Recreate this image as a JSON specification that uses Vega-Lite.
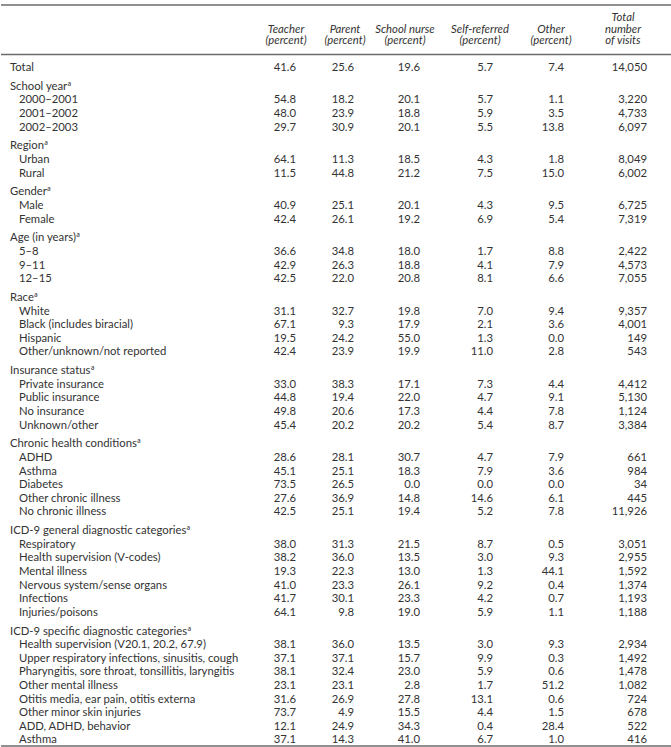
{
  "$schema": "https://vega.github.io/schema/vega-lite/v6.json",
  "padding": 0,
  "background": "white",
  "width": 671,
  "height": 747,
  "config": {
    "view": {"stroke": null},
    "axis": {"disable": true},
    "text": {"font": "Lato", "fontSize": 11.3, "color": "#333333"}
  },
  "datasets": {
    "rows": [
      {"g": 1, "r": 1, "kind": "head", "label": "Total", "teacher": 41.6, "parent": 25.6, "nurse": 19.6, "self": 5.7, "other": 7.4, "total": 14050},
      {"g": 2, "r": 2, "kind": "head", "label": "School yearª"},
      {"g": 2, "r": 3, "kind": "item", "label": "2000–2001", "teacher": 54.8, "parent": 18.2, "nurse": 20.1, "self": 5.7, "other": 1.1, "total": 3220},
      {"g": 2, "r": 4, "kind": "item", "label": "2001–2002", "teacher": 48.0, "parent": 23.9, "nurse": 18.8, "self": 5.9, "other": 3.5, "total": 4733},
      {"g": 2, "r": 5, "kind": "item", "label": "2002–2003", "teacher": 29.7, "parent": 30.9, "nurse": 20.1, "self": 5.5, "other": 13.8, "total": 6097},
      {"g": 3, "r": 6, "kind": "head", "label": "Regionª"},
      {"g": 3, "r": 7, "kind": "item", "label": "Urban", "teacher": 64.1, "parent": 11.3, "nurse": 18.5, "self": 4.3, "other": 1.8, "total": 8049},
      {"g": 3, "r": 8, "kind": "item", "label": "Rural", "teacher": 11.5, "parent": 44.8, "nurse": 21.2, "self": 7.5, "other": 15.0, "total": 6002},
      {"g": 4, "r": 9, "kind": "head", "label": "Genderª"},
      {"g": 4, "r": 10, "kind": "item", "label": "Male", "teacher": 40.9, "parent": 25.1, "nurse": 20.1, "self": 4.3, "other": 9.5, "total": 6725},
      {"g": 4, "r": 11, "kind": "item", "label": "Female", "teacher": 42.4, "parent": 26.1, "nurse": 19.2, "self": 6.9, "other": 5.4, "total": 7319},
      {"g": 5, "r": 12, "kind": "head", "label": "Age (in years)ª"},
      {"g": 5, "r": 13, "kind": "item", "label": "5–8", "teacher": 36.6, "parent": 34.8, "nurse": 18.0, "self": 1.7, "other": 8.8, "total": 2422},
      {"g": 5, "r": 14, "kind": "item", "label": "9–11", "teacher": 42.9, "parent": 26.3, "nurse": 18.8, "self": 4.1, "other": 7.9, "total": 4573},
      {"g": 5, "r": 15, "kind": "item", "label": "12–15", "teacher": 42.5, "parent": 22.0, "nurse": 20.8, "self": 8.1, "other": 6.6, "total": 7055},
      {"g": 6, "r": 16, "kind": "head", "label": "Raceª"},
      {"g": 6, "r": 17, "kind": "item", "label": "White", "teacher": 31.1, "parent": 32.7, "nurse": 19.8, "self": 7.0, "other": 9.4, "total": 9357},
      {"g": 6, "r": 18, "kind": "item", "label": "Black (includes biracial)", "teacher": 67.1, "parent": 9.3, "nurse": 17.9, "self": 2.1, "other": 3.6, "total": 4001},
      {"g": 6, "r": 19, "kind": "item", "label": "Hispanic", "teacher": 19.5, "parent": 24.2, "nurse": 55.0, "self": 1.3, "other": 0.0, "total": 149},
      {"g": 6, "r": 20, "kind": "item", "label": "Other/unknown/not reported", "teacher": 42.4, "parent": 23.9, "nurse": 19.9, "self": 11.0, "other": 2.8, "total": 543},
      {"g": 7, "r": 21, "kind": "head", "label": "Insurance statusª"},
      {"g": 7, "r": 22, "kind": "item", "label": "Private insurance", "teacher": 33.0, "parent": 38.3, "nurse": 17.1, "self": 7.3, "other": 4.4, "total": 4412},
      {"g": 7, "r": 23, "kind": "item", "label": "Public insurance", "teacher": 44.8, "parent": 19.4, "nurse": 22.0, "self": 4.7, "other": 9.1, "total": 5130},
      {"g": 7, "r": 24, "kind": "item", "label": "No insurance", "teacher": 49.8, "parent": 20.6, "nurse": 17.3, "self": 4.4, "other": 7.8, "total": 1124},
      {"g": 7, "r": 25, "kind": "item", "label": "Unknown/other", "teacher": 45.4, "parent": 20.2, "nurse": 20.2, "self": 5.4, "other": 8.7, "total": 3384},
      {"g": 8, "r": 26, "kind": "head", "label": "Chronic health conditionsª"},
      {"g": 8, "r": 27, "kind": "item", "label": "ADHD", "teacher": 28.6, "parent": 28.1, "nurse": 30.7, "self": 4.7, "other": 7.9, "total": 661},
      {"g": 8, "r": 28, "kind": "item", "label": "Asthma", "teacher": 45.1, "parent": 25.1, "nurse": 18.3, "self": 7.9, "other": 3.6, "total": 984},
      {"g": 8, "r": 29, "kind": "item", "label": "Diabetes", "teacher": 73.5, "parent": 26.5, "nurse": 0.0, "self": 0.0, "other": 0.0, "total": 34},
      {"g": 8, "r": 30, "kind": "item", "label": "Other chronic illness", "teacher": 27.6, "parent": 36.9, "nurse": 14.8, "self": 14.6, "other": 6.1, "total": 445},
      {"g": 8, "r": 31, "kind": "item", "label": "No chronic illness", "teacher": 42.5, "parent": 25.1, "nurse": 19.4, "self": 5.2, "other": 7.8, "total": 11926},
      {"g": 9, "r": 32, "kind": "head", "label": "ICD-9 general diagnostic categoriesª"},
      {"g": 9, "r": 33, "kind": "item", "label": "Respiratory", "teacher": 38.0, "parent": 31.3, "nurse": 21.5, "self": 8.7, "other": 0.5, "total": 3051},
      {"g": 9, "r": 34, "kind": "item", "label": "Health supervision (V-codes)", "teacher": 38.2, "parent": 36.0, "nurse": 13.5, "self": 3.0, "other": 9.3, "total": 2955},
      {"g": 9, "r": 35, "kind": "item", "label": "Mental illness", "teacher": 19.3, "parent": 22.3, "nurse": 13.0, "self": 1.3, "other": 44.1, "total": 1592},
      {"g": 9, "r": 36, "kind": "item", "label": "Nervous system/sense organs", "teacher": 41.0, "parent": 23.3, "nurse": 26.1, "self": 9.2, "other": 0.4, "total": 1374},
      {"g": 9, "r": 37, "kind": "item", "label": "Infections", "teacher": 41.7, "parent": 30.1, "nurse": 23.3, "self": 4.2, "other": 0.7, "total": 1193},
      {"g": 9, "r": 38, "kind": "item", "label": "Injuries/poisons", "teacher": 64.1, "parent": 9.8, "nurse": 19.0, "self": 5.9, "other": 1.1, "total": 1188},
      {"g": 10, "r": 39, "kind": "head", "label": "ICD-9 specific diagnostic categoriesª"},
      {"g": 10, "r": 40, "kind": "item", "label": "Health supervision (V20.1, 20.2, 67.9)", "teacher": 38.1, "parent": 36.0, "nurse": 13.5, "self": 3.0, "other": 9.3, "total": 2934},
      {"g": 10, "r": 41, "kind": "item", "label": "Upper respiratory infections, sinusitis, cough", "teacher": 37.1, "parent": 37.1, "nurse": 15.7, "self": 9.9, "other": 0.3, "total": 1492},
      {"g": 10, "r": 42, "kind": "item", "label": "Pharyngitis, sore throat, tonsillitis, laryngitis", "teacher": 38.1, "parent": 32.4, "nurse": 23.0, "self": 5.9, "other": 0.6, "total": 1478},
      {"g": 10, "r": 43, "kind": "item", "label": "Other mental illness", "teacher": 23.1, "parent": 23.1, "nurse": 2.8, "self": 1.7, "other": 51.2, "total": 1082},
      {"g": 10, "r": 44, "kind": "item", "label": "Otitis media, ear pain, otitis externa", "teacher": 31.6, "parent": 26.9, "nurse": 27.8, "self": 13.1, "other": 0.6, "total": 724},
      {"g": 10, "r": 45, "kind": "item", "label": "Other minor skin injuries", "teacher": 73.7, "parent": 4.9, "nurse": 15.5, "self": 4.4, "other": 1.5, "total": 678},
      {"g": 10, "r": 46, "kind": "item", "label": "ADD, ADHD, behavior", "teacher": 12.1, "parent": 24.9, "nurse": 34.3, "self": 0.4, "other": 28.4, "total": 522},
      {"g": 10, "r": 47, "kind": "item", "label": "Asthma", "teacher": 37.1, "parent": 14.3, "nurse": 41.0, "self": 6.7, "other": 1.0, "total": 416}
    ],
    "headers": [
      {"hcol": "teacher", "t": ["Teacher", "(percent)"]},
      {"hcol": "parent", "t": ["Parent", "(percent)"]},
      {"hcol": "nurse", "t": ["School nurse", "(percent)"]},
      {"hcol": "self", "t": ["Self-referred", "(percent)"]},
      {"hcol": "other", "t": ["Other", "(percent)"]},
      {"hcol": "total", "t": ["Total", "number", "of visits"]}
    ],
    "lines": [{"ln": "top"}]
  },
  "data": {"name": "rows"},
  "layer": [
    {"data": {"name": "lines"}, "mark": {"type": "rule", "color": "#6b6b6b", "strokeWidth": 1.3},
     "encoding": {"y": {"datum": -1, "type": "quantitative", "axis": null,
       "scale": {"domain": [-1, -0.6, -0.4, 0, 1, 2, 5, 6, 8, 9, 11, 12, 15, 16, 20, 21, 25, 26, 31, 32, 38, 39, 47, 48],
                 "range": [5, 21, 32.5, 54.5, 68, 86.8, 127.6, 146.4, 173.6, 192.4, 219.6, 238.4, 279.2, 298, 352.4, 371.2, 425.6, 444.4, 512.4, 531.2, 612.8, 631.6, 740.4, 746],
                 "zero": false, "nice": false}}}},
    {"data": {"name": "lines"}, "mark": {"type": "rule", "color": "#6b6b6b", "strokeWidth": 1.3},
     "encoding": {"y": {"datum": 0, "type": "quantitative", "axis": null}}},
    {"data": {"name": "lines"}, "mark": {"type": "rule", "color": "#6b6b6b", "strokeWidth": 1.3},
     "encoding": {"y": {"datum": 48, "type": "quantitative", "axis": null}}},
    {"data": {"name": "headers"}, "transform": [{"filter": "datum.hcol === 'teacher'"}],
     "mark": {"type": "text", "align": "center", "baseline": "alphabetic", "fontStyle": "italic", "lineHeight": 11.5},
     "encoding": {"x": {"datum": 1.8, "type": "quantitative", "axis": null,
       "scale": {"domain": [0, 1, 1.8, 2, 2.8, 3, 3.8, 4, 4.8, 5, 5.8, 6, 6.8, 7],
                 "range": [9, 18, 285, 295, 344, 353, 404, 419, 479, 492, 550, 563, 622, 646],
                 "zero": false, "nice": false}},
       "y": {"datum": -0.4, "type": "quantitative", "axis": null}, "text": {"field": "t"}}},
    {"data": {"name": "headers"}, "transform": [{"filter": "datum.hcol === 'parent'"}],
     "mark": {"type": "text", "align": "center", "baseline": "alphabetic", "fontStyle": "italic", "lineHeight": 11.5},
     "encoding": {"x": {"datum": 2.8, "type": "quantitative", "axis": null}, "y": {"datum": -0.4, "type": "quantitative", "axis": null}, "text": {"field": "t"}}},
    {"data": {"name": "headers"}, "transform": [{"filter": "datum.hcol === 'nurse'"}],
     "mark": {"type": "text", "align": "center", "baseline": "alphabetic", "fontStyle": "italic", "lineHeight": 11.5},
     "encoding": {"x": {"datum": 3.8, "type": "quantitative", "axis": null}, "y": {"datum": -0.4, "type": "quantitative", "axis": null}, "text": {"field": "t"}}},
    {"data": {"name": "headers"}, "transform": [{"filter": "datum.hcol === 'self'"}],
     "mark": {"type": "text", "align": "center", "baseline": "alphabetic", "fontStyle": "italic", "lineHeight": 11.5},
     "encoding": {"x": {"datum": 4.8, "type": "quantitative", "axis": null}, "y": {"datum": -0.4, "type": "quantitative", "axis": null}, "text": {"field": "t"}}},
    {"data": {"name": "headers"}, "transform": [{"filter": "datum.hcol === 'other'"}],
     "mark": {"type": "text", "align": "center", "baseline": "alphabetic", "fontStyle": "italic", "lineHeight": 11.5},
     "encoding": {"x": {"datum": 5.8, "type": "quantitative", "axis": null}, "y": {"datum": -0.4, "type": "quantitative", "axis": null}, "text": {"field": "t"}}},
    {"data": {"name": "headers"}, "transform": [{"filter": "datum.hcol === 'total'"}],
     "mark": {"type": "text", "align": "center", "baseline": "alphabetic", "fontStyle": "italic", "lineHeight": 11.5},
     "encoding": {"x": {"datum": 6.8, "type": "quantitative", "axis": null}, "y": {"datum": -0.6, "type": "quantitative", "axis": null}, "text": {"field": "t"}}},
    {"transform": [{"filter": "datum.kind === 'head'"}], "mark": {"type": "text", "align": "left", "baseline": "middle"},
     "encoding": {"x": {"datum": 0, "type": "quantitative", "axis": null}, "y": {"field": "r", "type": "quantitative", "axis": null}, "text": {"field": "label"}}},
    {"transform": [{"filter": "datum.kind === 'item'"}], "mark": {"type": "text", "align": "left", "baseline": "middle"},
     "encoding": {"x": {"datum": 1, "type": "quantitative", "axis": null}, "y": {"field": "r", "type": "quantitative", "axis": null}, "text": {"field": "label"}}},
    {"transform": [{"filter": {"field": "teacher", "valid": true}}], "mark": {"type": "text", "align": "right", "baseline": "middle"},
     "encoding": {"x": {"datum": 2, "type": "quantitative", "axis": null}, "y": {"field": "r", "type": "quantitative", "axis": null}, "text": {"field": "teacher", "type": "quantitative", "format": ".1f"}}},
    {"transform": [{"filter": {"field": "parent", "valid": true}}], "mark": {"type": "text", "align": "right", "baseline": "middle"},
     "encoding": {"x": {"datum": 3, "type": "quantitative", "axis": null}, "y": {"field": "r", "type": "quantitative", "axis": null}, "text": {"field": "parent", "type": "quantitative", "format": ".1f"}}},
    {"transform": [{"filter": {"field": "nurse", "valid": true}}], "mark": {"type": "text", "align": "right", "baseline": "middle"},
     "encoding": {"x": {"datum": 4, "type": "quantitative", "axis": null}, "y": {"field": "r", "type": "quantitative", "axis": null}, "text": {"field": "nurse", "type": "quantitative", "format": ".1f"}}},
    {"transform": [{"filter": {"field": "self", "valid": true}}], "mark": {"type": "text", "align": "right", "baseline": "middle"},
     "encoding": {"x": {"datum": 5, "type": "quantitative", "axis": null}, "y": {"field": "r", "type": "quantitative", "axis": null}, "text": {"field": "self", "type": "quantitative", "format": ".1f"}}},
    {"transform": [{"filter": {"field": "other", "valid": true}}], "mark": {"type": "text", "align": "right", "baseline": "middle"},
     "encoding": {"x": {"datum": 6, "type": "quantitative", "axis": null}, "y": {"field": "r", "type": "quantitative", "axis": null}, "text": {"field": "other", "type": "quantitative", "format": ".1f"}}},
    {"transform": [{"filter": {"field": "total", "valid": true}}], "mark": {"type": "text", "align": "right", "baseline": "middle"},
     "encoding": {"x": {"datum": 7, "type": "quantitative", "axis": null}, "y": {"field": "r", "type": "quantitative", "axis": null}, "text": {"field": "total", "type": "quantitative", "format": ",.0f"}}}
  ]
}
